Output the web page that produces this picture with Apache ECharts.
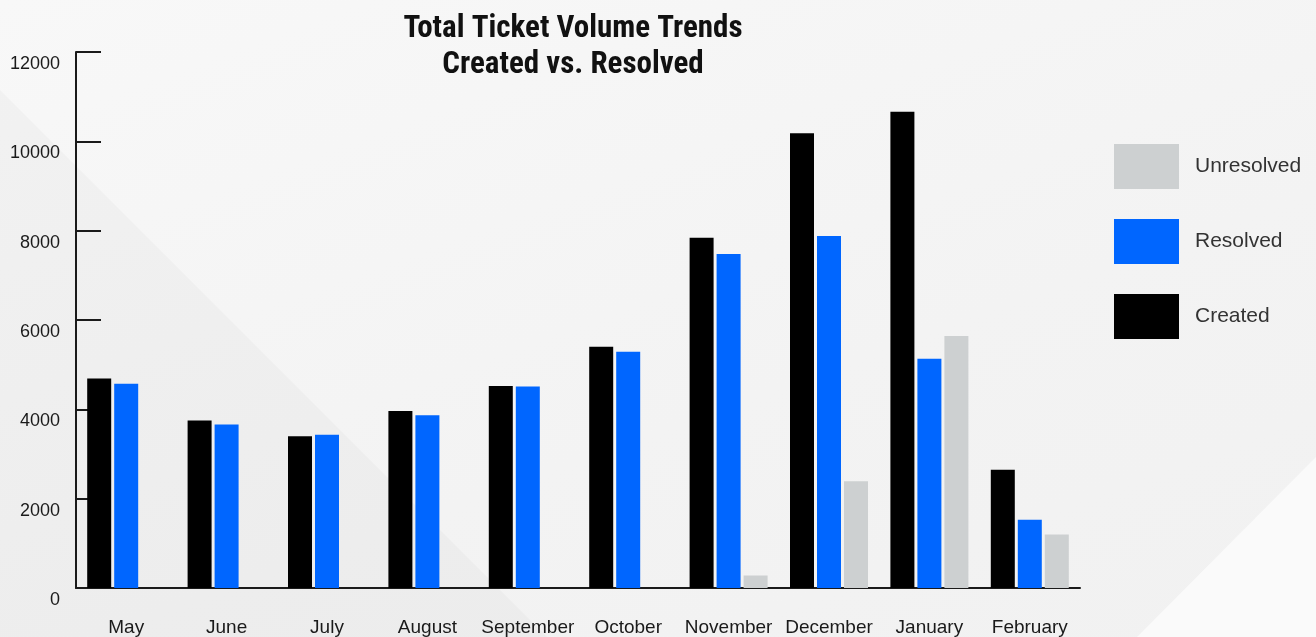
<!DOCTYPE html>
<html>
<head>
<meta charset="utf-8">
<script src="https://cdn.jsdelivr.net/npm/echarts@6/dist/echarts.min.js"></script>
<style>
  html, body { margin: 0; padding: 0; }
  #chart { width: 1316px; height: 637px; background: linear-gradient(160deg, #f8f8f8 0%, #f3f3f3 60%, #f1f1f1 100%); }
</style>
</head>
<body>
<div id="chart"></div>
<script>
const months = ['May', 'June', 'July', 'August', 'September', 'October', 'November', 'December', 'January', 'February'];
const created = [4690, 3750, 3400, 3960, 4520, 5400, 7840, 10180, 10660, 2650];
const resolved = [4570, 3660, 3430, 3870, 4510, 5290, 7480, 7880, 5130, 1530];
const unresolved = [null, null, null, null, null, null, 280, 2390, 5640, 1200];
const yTicks = { min: 0, max: 12000, interval: 2000 };

const chart = echarts.init(document.getElementById('chart'), null, { renderer: 'canvas' });
const axisColor = '#1a1a1a';
const fontFam = 'Liberation Sans, Arial, sans-serif';

chart.setOption({
  backgroundColor: 'transparent',
  animation: false,
  graphic: [
    { type: 'polygon', z: -10, silent: true, shape: { points: [[0, 90], [547, 637], [0, 637]] }, style: { fill: 'rgba(0,0,0,0.025)' } },
    { type: 'polygon', z: -10, silent: true, shape: { points: [[1137, 637], [1316, 457], [1316, 637]] }, style: { fill: '#fafafa' } }
  ],
  title: {
    text: 'Total Ticket Volume Trends\nCreated vs. Resolved',
    left: 568,
    top: 6,
    textAlign: 'center',
    textStyle: {
      fontFamily: 'Roboto Condensed, Roboto, sans-serif',
      fontWeight: 'bold',
      fontSize: 31,
      lineHeight: 36,
      color: '#111'
    }
  },
  legend: {
    orient: 'vertical',
    left: 1114,
    top: 144,
    padding: 0,
    itemWidth: 65,
    itemHeight: 45,
    itemGap: 30,
    icon: 'rect',
    data: ['Unresolved', 'Resolved', 'Created'],
    textStyle: { fontFamily: fontFam, fontSize: 21, color: '#333', padding: [3, 0, 0, 11] }
  },
  grid: { left: 76, right: 236, top: 52, bottom: 49, containLabel: false },
  xAxis: {
    type: 'category',
    data: months,
    axisLine: { lineStyle: { color: axisColor, width: 2 } },
    axisTick: { inside: true, length: 12, lineStyle: { color: axisColor, width: 2 } },
    axisLabel: { margin: 30, verticalAlign: 'top', interval: 0, fontFamily: fontFam, fontSize: 19, color: '#1a1a1a' },
    splitLine: { show: false }
  },
  yAxis: {
    type: 'value',
    min: yTicks.min,
    max: yTicks.max,
    interval: yTicks.interval,
    axisLine: { show: true, lineStyle: { color: axisColor, width: 2 } },
    axisTick: { show: true, inside: true, length: 25, lineStyle: { color: axisColor, width: 2 } },
    axisLabel: { margin: 16, verticalAlign: 'top', padding: [3, 0, 0, 0], fontFamily: fontFam, fontSize: 18, color: '#1a1a1a', formatter: function (v) { return String(v); } },
    splitLine: { show: false }
  },
  series: [
    { name: 'Created', type: 'bar', data: created, barWidth: 24, barGap: '12.5%', itemStyle: { color: '#000000' } },
    { name: 'Resolved', type: 'bar', data: resolved, barWidth: 24, barGap: '12.5%', itemStyle: { color: '#0066ff' } },
    { name: 'Unresolved', type: 'bar', data: unresolved, barWidth: 24, barGap: '12.5%', itemStyle: { color: '#cdd0d1' } }
  ]
});
</script>
</body>
</html>
